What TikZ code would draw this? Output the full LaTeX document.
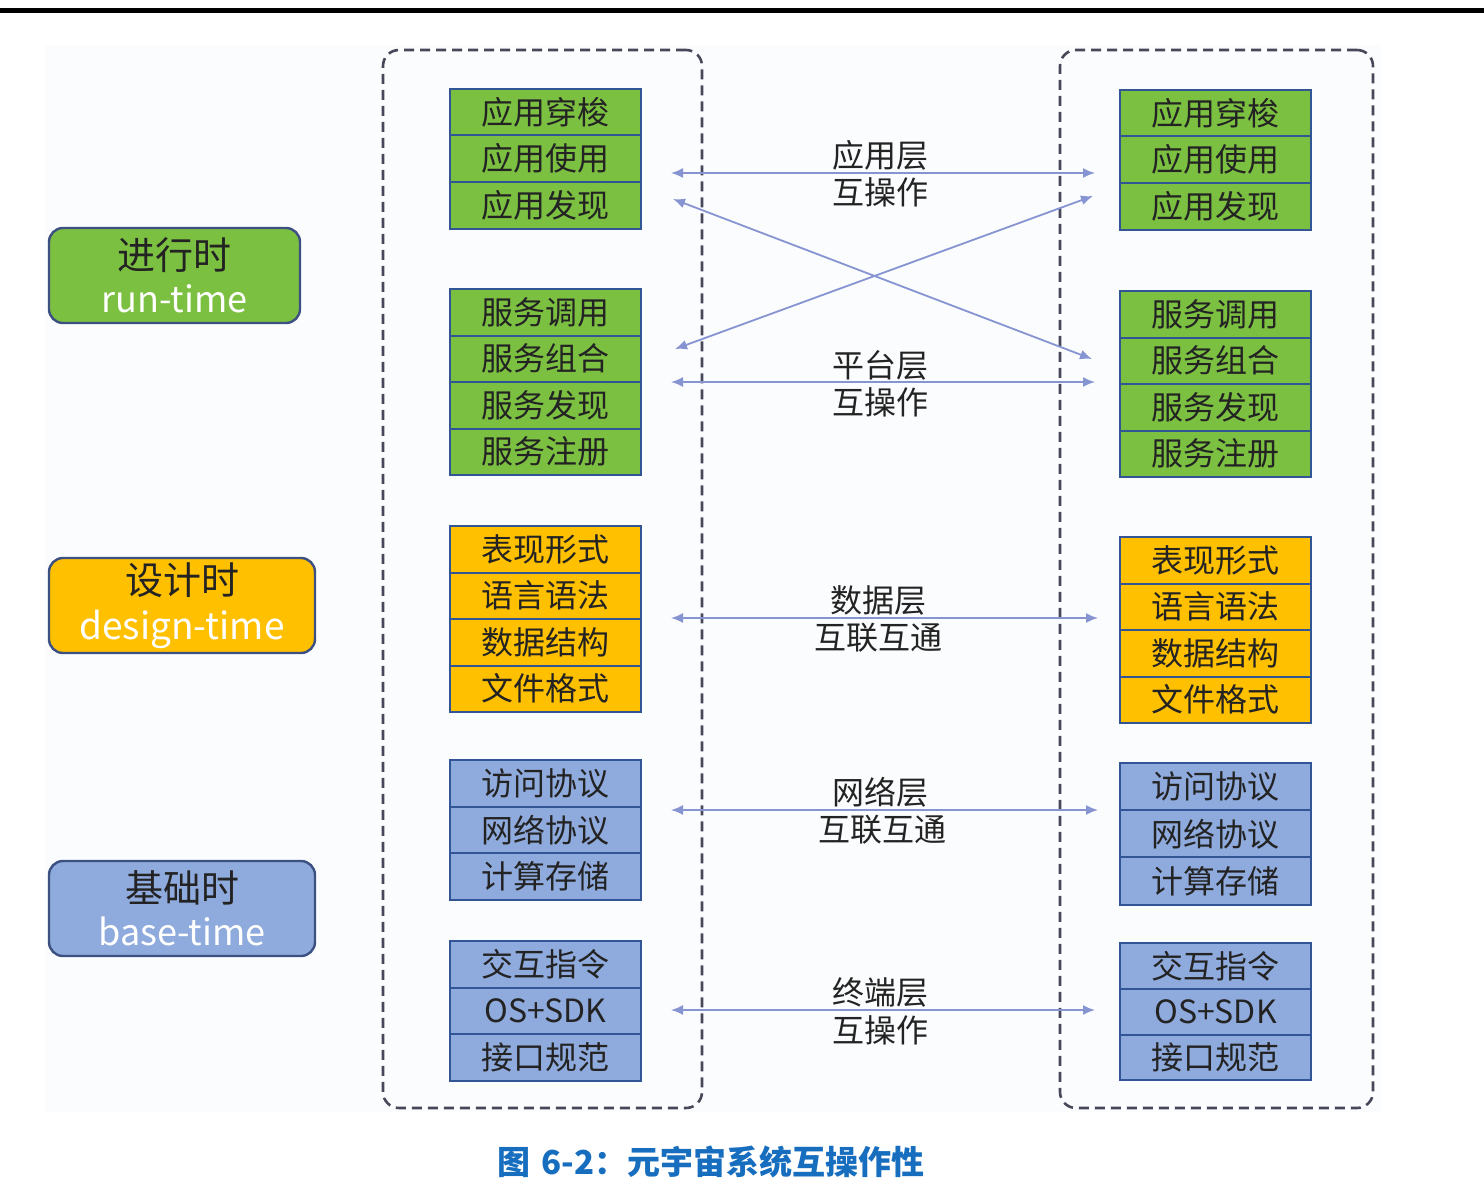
\documentclass[tikz,border=0pt]{standalone}
\usepackage{fontspec}
\setmainfont{Noto Sans CJK SC}
\usetikzlibrary{arrows.meta}
\definecolor{gfill}{RGB}{124,192,66}
\definecolor{ofill}{RGB}{255,192,0}
\definecolor{bfill}{RGB}{143,170,220}
\definecolor{cellborder}{RGB}{50,85,150}
\definecolor{lblborder}{RGB}{60,80,130}
\definecolor{arrowcol}{RGB}{135,148,210}
\definecolor{dashcol}{RGB}{70,72,90}
\definecolor{capblue}{RGB}{24,110,190}
\definecolor{txt}{RGB}{35,35,35}
\definecolor{bgfaint}{RGB}{251,252,253}
\begin{document}
\begin{tikzpicture}[x=0.5pt,y=-0.5pt,
  cell/.style={draw=cellborder, line width=1pt, minimum width=95.5pt, minimum height=23.25pt,
    inner sep=0pt, outer sep=0pt, anchor=north, text=txt, font=\fontsize{16}{16}\selectfont},
  gcell/.style={cell, fill=gfill},
  ocell/.style={cell, fill=ofill},
  bcell/.style={cell, fill=bfill},
  lbl/.style={draw=lblborder, line width=1.2pt, rounded corners=7pt, inner sep=0pt,
    minimum height=47.5pt, align=center, text=txt},
  container/.style={draw=dashcol, line width=1.3pt, dash pattern=on 5pt off 3pt,
    rounded corners=8pt, inner sep=0pt},
  midlbl/.style={text=txt, font=\fontsize{16}{16}\selectfont, inner sep=0pt},
  arr/.style={draw=arrowcol, line width=0.9pt,
    {Latex[length=6pt,width=5pt]}-{Latex[length=6pt,width=5pt]}}
]
\useasboundingbox (0,0) rectangle (1484,1188);
\fill[bgfaint] (45,45) rectangle (1382,1112);
\draw[line width=2.5pt] (0,10.5) -- (1484,10.5);

% containers
\node[container, minimum width=159.5pt, minimum height=529pt] (leftbox) at (542.5,579) {};
\node[container, minimum width=156.5pt, minimum height=529pt] (rightbox) at (1216.5,579) {};

% left label boxes
\node[lbl, fill=gfill, minimum width=125.5pt] (run) at (174.5,275.5)
  {{\fontsize{19}{22}\selectfont 进行时}\\[5pt]{\fontsize{18}{18}\selectfont\color{white}run-time}};
\node[lbl, fill=ofill, minimum width=133pt] (design) at (182,605.5)
  {{\fontsize{19}{22}\selectfont 设计时}\\[5pt]{\fontsize{18.5}{18}\selectfont\color{white}design-time}};
\node[lbl, fill=bfill, minimum width=133pt] (base) at (182,908.5)
  {{\fontsize{19}{22}\selectfont 基础时}\\[5pt]{\fontsize{18}{18}\selectfont\color{white}base-time}};

% left stacks
\node[gcell] (L1a) at (545.5,89) {应用穿梭};
\node[gcell] (L1b) at (L1a.south) {应用使用};
\node[gcell] (L1c) at (L1b.south) {应用发现};

\node[gcell] (L2a) at (545.5,289) {服务调用};
\node[gcell] (L2b) at (L2a.south) {服务组合};
\node[gcell] (L2c) at (L2b.south) {服务发现};
\node[gcell] (L2d) at (L2c.south) {服务注册};

\node[ocell] (L3a) at (545.5,526) {表现形式};
\node[ocell] (L3b) at (L3a.south) {语言语法};
\node[ocell] (L3c) at (L3b.south) {数据结构};
\node[ocell] (L3d) at (L3c.south) {文件格式};

\node[bcell] (L4a) at (545.5,760) {访问协议};
\node[bcell] (L4b) at (L4a.south) {网络协议};
\node[bcell] (L4c) at (L4b.south) {计算存储};

\node[bcell] (L5a) at (545.5,941) {交互指令};
\node[bcell] (L5b) at (L5a.south) {OS+SDK};
\node[bcell] (L5c) at (L5b.south) {接口规范};

% right stacks
\node[gcell] (R1a) at (1215.5,90) {应用穿梭};
\node[gcell] (R1b) at (R1a.south) {应用使用};
\node[gcell] (R1c) at (R1b.south) {应用发现};

\node[gcell] (R2a) at (1215.5,291) {服务调用};
\node[gcell] (R2b) at (R2a.south) {服务组合};
\node[gcell] (R2c) at (R2b.south) {服务发现};
\node[gcell] (R2d) at (R2c.south) {服务注册};

\node[ocell] (R3a) at (1215.5,537) {表现形式};
\node[ocell] (R3b) at (R3a.south) {语言语法};
\node[ocell] (R3c) at (R3b.south) {数据结构};
\node[ocell] (R3d) at (R3c.south) {文件格式};

\node[bcell, minimum height=23.6pt] (R4a) at (1215.5,763) {访问协议};
\node[bcell, minimum height=23.6pt] (R4b) at (R4a.south) {网络协议};
\node[bcell, minimum height=23.6pt] (R4c) at (R4b.south) {计算存储};

\node[bcell, minimum height=22.9pt] (R5a) at (1215.5,943) {交互指令};
\node[bcell, minimum height=22.9pt] (R5b) at (R5a.south) {OS+SDK};
\node[bcell, minimum height=22.9pt] (R5c) at (R5b.south) {接口规范};

% middle labels
\node[midlbl] (t1a) at (880,155) {应用层};
\node[midlbl] (t1b) at (880,192) {互操作};
\node[midlbl] (t2a) at (880,365) {平台层};
\node[midlbl] (t2b) at (880,402) {互操作};
\node[midlbl] (t3a) at (878,600) {数据层};
\node[midlbl] (t3b) at (878,638) {互联互通};
\node[midlbl] (t4a) at (880,792) {网络层};
\node[midlbl] (t4b) at (882,830) {互联互通};
\node[midlbl] (t5a) at (880,992) {终端层};
\node[midlbl] (t5b) at (880,1030) {互操作};

% arrow end points
\coordinate (a1l) at (671,173);  \coordinate (a1r) at (1095,173);
\coordinate (a2l) at (671,382);  \coordinate (a2r) at (1095,382);
\coordinate (a3l) at (671,618);  \coordinate (a3r) at (1098,618);
\coordinate (a4l) at (671,810);  \coordinate (a4r) at (1098,810);
\coordinate (a5l) at (671,1010); \coordinate (a5r) at (1095,1010);
\coordinate (xl1) at (673,199);  \coordinate (xr1) at (1092,359);
\coordinate (xl2) at (675,349);  \coordinate (xr2) at (1093,196);

\draw[arr] (a1l) -- (a1r);
\draw[arr] (a2l) -- (a2r);
\draw[arr] (a3l) -- (a3r);
\draw[arr] (a4l) -- (a4r);
\draw[arr] (a5l) -- (a5r);
\draw[arr] (xl1) -- (xr1);
\draw[arr] (xl2) -- (xr2);

% caption
\node[text=capblue, font=\bfseries\fontsize{16.5}{17}\selectfont, inner sep=0pt] (cap) at (711,1162)
  {图\hspace{0.35em}6-2：元宇宙系统互操作性};
\end{tikzpicture}
\end{document}
